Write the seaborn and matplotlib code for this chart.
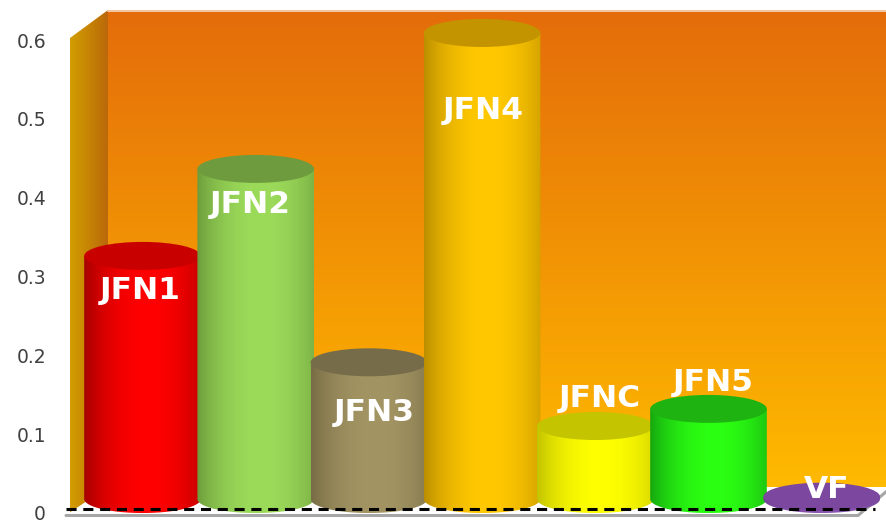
import numpy as np
import pandas as pd
import matplotlib
matplotlib.use("Agg")
import matplotlib.pyplot as plt
import seaborn as sns
from matplotlib.patches import Ellipse, Polygon
from matplotlib.path import Path
from matplotlib.colors import to_rgb

# ---------------- data ----------------
categories = ["JFN1", "JFN2", "JFN3", "JFN4", "JFNC", "JFN5", "VF"]
values = [0.313, 0.425, 0.176, 0.600, 0.094, 0.116, 0.003]
ytick_values = [0, 0.1, 0.2, 0.3, 0.4, 0.5, 0.6]
ytick_labels = ["0", "0.1", "0.2", "0.3", "0.4", "0.5", "0.6"]

# ---------------- styles ----------------
light_cols = ["#FF0000", "#9CDB5A", "#A39563", "#FFC800", "#FFFF00", "#2BFF12", "#8A55B0"]
dark_cols = ["#8B0000", "#5E8A32", "#6A5F3C", "#A67C00", "#B0B000", "#0F8C0F", "#6A3C8C"]
top_cols = ["#C80000", "#6E9B3E", "#776C4A", "#C39400", "#C4C400", "#1FB312", "#7B479F"]
label_offsets_px = [(-2.5, -32), (-5, -33), (5, -47), (1, -75), (5, 31), (4.5, 29), (5, 10)]

W, H = 887, 527
sns.set_style("white")
plt.rcParams["font.family"] = ["DejaVu Sans"]

fig = plt.figure(figsize=(W / 100, H / 100), dpi=100)

# background (pixel coordinates)
bg = fig.add_axes([0, 0, 1, 1], zorder=0)
bg.set_xlim(0, W)
bg.set_ylim(H, 0)
bg.axis("off")

def grad_img(c0, c1, n=256, horizontal=False):
    c0, c1 = np.array(to_rgb(c0)), np.array(to_rgb(c1))
    t = np.linspace(0, 1, n)[:, None]
    arr = c0 * (1 - t) + c1 * t
    if horizontal:
        return arr[None, :, :]
    return arr[:, None, :]

# back wall
bg.imshow(grad_img("#E46C0A", "#FFBA00"), extent=[108, 887, 487, 10],
          aspect="auto", zorder=1, interpolation="bicubic")
bg.plot([108, 887], [10.5, 10.5], color="#F4C7A2", lw=1.5, zorder=2)
# left side wall
side = Polygon([(70, 38), (108, 10), (108, 487), (70, 513)], closed=True,
               facecolor="none", edgecolor="none")
bg.add_patch(side)
im = bg.imshow(grad_img("#D29E00", "#BA680A", horizontal=True), extent=[70, 108, 513, 10],
               aspect="auto", zorder=1, interpolation="bicubic")
im.set_clip_path(side)
# floor
floor = Polygon([(66, 515), (108, 487), (887, 487), (887, 491), (858, 515)], closed=True,
                facecolor="#FFFFFF", edgecolor="none", zorder=1.5)
bg.add_patch(floor)
bg.plot([66, 858, 887], [515.5, 515.5, 491], color="#A6A6A6", lw=2.2, zorder=1.6,
        solid_joinstyle="miter")
bg.set_xlim(0, W)
bg.set_ylim(H, 0)

# axes geometry
ax_left, ax_right, ax_top, ax_bot = 66, 887, 5, 520
pos = [ax_left / W, (H - ax_bot) / H, (ax_right - ax_left) / W, (ax_bot - ax_top) / H]

# tick-label axes
ta = fig.add_axes(pos, zorder=1)
ta.set_ylim(-0.0089, 0.6444)
ta.set_yticks(ytick_values)
ta.set_yticklabels(ytick_labels)
ta.tick_params(axis="y", length=0, pad=14.4, labelsize=13.5, labelcolor="#404040")
ta.set_xticks([])
ta.patch.set_alpha(0)
for s in ta.spines.values():
    s.set_visible(False)

# main axes with cylinders
ax = fig.add_axes(pos, zorder=2)
ax.patch.set_alpha(0)
df = pd.DataFrame({"category": categories, "value": values})
sns.barplot(data=df, x="category", y="value", order=categories, width=1.03,
            color="#888888", ax=ax, errorbar=None)
xlim = (-0.676, 6.577)
ylim = (-0.0270, 0.636)
ax.set_xlim(*xlim)
ax.set_ylim(*ylim)
ax.axis("off")

ax_h_px = ax_bot - ax_top
ell_h = 28 / ax_h_px * (ylim[1] - ylim[0])
b = ell_h / 2

for i, p in enumerate(ax.patches):
    x0 = p.get_x()
    w = p.get_width()
    h = p.get_height()
    x1 = x0 + w
    xc = x0 + w / 2
    p.set_facecolor("none")
    p.set_edgecolor("none")
    z = 3 + i * 0.1
    th = np.linspace(np.pi, 2 * np.pi, 60)
    verts = [(x0, h), (x0, 0)]
    verts += [(xc + w / 2 * np.cos(t), b * np.sin(t)) for t in th]
    verts += [(x1, h), (x0, h)]
    path = Path(verts, closed=True)
    # horizontal shading across the cylinder
    t = np.linspace(0, 1, 200)
    f = np.clip(1 - ((t - 0.55) / 0.6) ** 2, 0, 1) ** 0.8
    c_l, c_d = np.array(to_rgb(light_cols[i])), np.array(to_rgb(dark_cols[i]))
    arr = (c_d * (1 - f[:, None]) + c_l * f[:, None])[None, :, :]
    img = ax.imshow(arr, extent=[x0, x1, -b, h], aspect="auto", zorder=z,
                    interpolation="bicubic")
    img.set_clip_path(path, ax.transData)
    ax.add_patch(Ellipse((xc, h), w, ell_h, facecolor=top_cols[i], edgecolor="none",
                         zorder=z + 0.05))
    dx, dy = label_offsets_px[i]
    ax.annotate(categories[i], xy=(xc, h), xytext=(dx * 0.72, dy * 0.72),
                textcoords="offset points", ha="center", va="center_baseline",
                color="white", fontsize=22.5, fontweight="bold", zorder=10)

ax.set_xlim(*xlim)
ax.set_ylim(*ylim)

# dashed baseline
base_y = ylim[0] + (ax_bot - 509) / ax_h_px * (ylim[1] - ylim[0])
ax.axhline(base_y, xmin=0, xmax=(875 - ax_left) / (ax_right - ax_left), color="black",
           lw=2.2, dashes=(3.3, 2.2), zorder=9)

fig.savefig("out.png", dpi=100)
